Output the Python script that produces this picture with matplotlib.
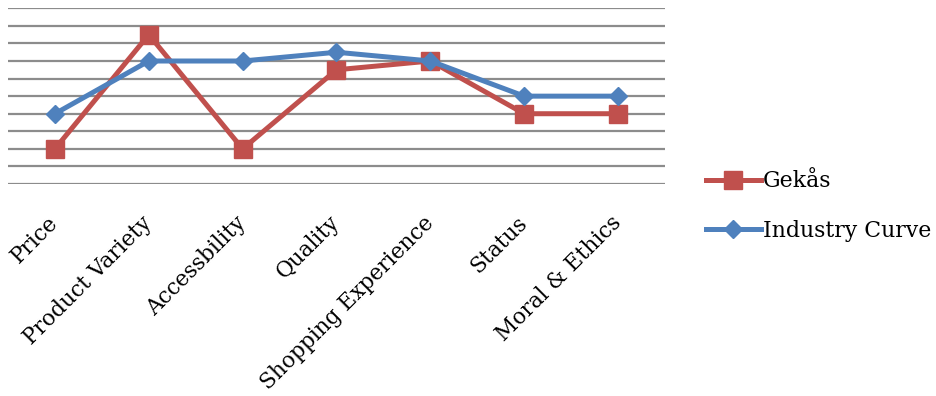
import numpy as np
import matplotlib.pyplot as plt

categories = ['Price', 'Product Variety', 'Accessbility', 'Quality',
              'Shopping Experience', 'Status', 'Moral & Ethics']
gekas = [2, 8.5, 2, 6.5, 7, 4, 4]
industry = [4, 7, 7, 7.5, 7, 5, 5]

plt.rcParams['font.family'] = ['DejaVu Serif']

fig = plt.figure(figsize=(9.37, 3.96), dpi=100)
ax = fig.add_axes([8/937, (396-184)/396, 657/937, 175.7/396])

x = np.arange(len(categories))
ax.plot(x, gekas, color='#C0504D', lw=3.6, marker='s', ms=13.5,
        label='Gekås', zorder=3)
ax.plot(x, industry, color='#4F81BD', lw=3.6, marker='D', ms=9.5,
        label='Industry Curve', zorder=4)

ax.set_xlim(-0.5, len(categories) - 0.5)
ax.set_ylim(0, 10)
ax.set_yticks(np.arange(0, 11, 1))
ax.yaxis.grid(True, color='#8c8c8c', lw=1.6)
ax.set_axisbelow(True)
ax.tick_params(axis='y', left=False, labelleft=False)
ax.tick_params(axis='x', bottom=False, pad=22)
for s in ax.spines.values():
    s.set_visible(False)

ax.set_xticks(x)
ax.set_xticklabels(categories, rotation=45, ha='right', va='center',
                   rotation_mode='anchor', fontsize=15.6)

fig.legend(loc='center left', bbox_to_anchor=(686/937, 1 - 206/396),
           frameon=False, fontsize=15.8, handlelength=2.5,
           labelspacing=1.25, handletextpad=0.1)

fig.savefig('out.png')
